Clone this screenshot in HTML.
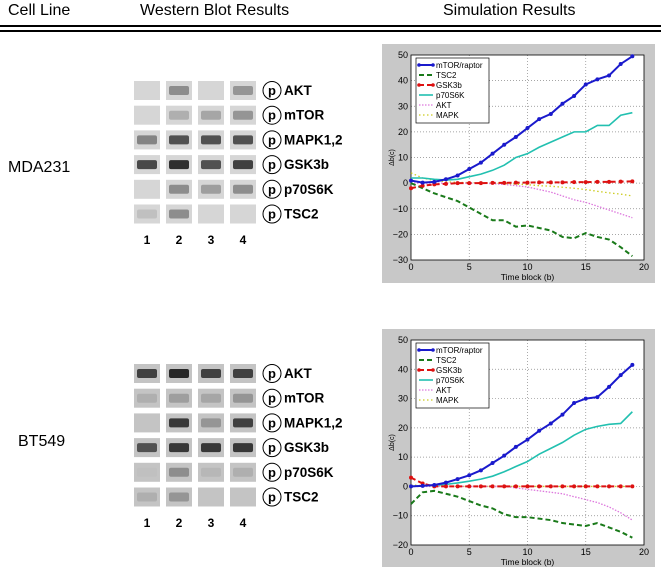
<!DOCTYPE html>
<html><head><meta charset="utf-8"><style>
body{margin:0;background:#fff;width:661px;height:567px;overflow:hidden;font-family:"Liberation Sans",Arial,sans-serif}
svg{position:absolute;left:0;top:0}
</style></head><body>
<svg id="fig" width="661" height="567">
<text x="8" y="15" font-size="16">Cell Line</text>
<text x="140" y="15" font-size="16">Western Blot Results</text>
<text x="443" y="15" font-size="16">Simulation Results</text>
<rect x="0" y="25" width="661" height="2" fill="#000"/>
<rect x="0" y="30" width="661" height="2" fill="#000"/>
<text x="8" y="172" font-size="16">MDA231</text>
<text x="18" y="446" font-size="16">BT549</text>
<g id="blots"></g>
<g id="charts"></g>
</svg>
<script>
const timeBlocks=[0,1,2,3,4,5,6,7,8,9,10,11,12,13,14,15,16,17,18,19];
const xTicks=[0,5,10,15,20];
const yTicks1=[-30,-20,-10,0,10,20,30,40,50];
const yTicks2=[-20,-10,0,10,20,30,40,50];
const mda_mTOR=[1,0.2,0.5,1.5,3,5.5,8,11.5,15,18,21.5,25,27,31,34,38.5,40.5,42,46.5,49.5];
const mda_TSC2=[0,-2,-4,-5.5,-7,-9.5,-12,-14.5,-14.5,-17,-16.5,-17.5,-18.5,-21,-21.5,-19.5,-21,-22,-25,-28.5];
const mda_GSK3b=[-2,-1,-0.5,-0.3,0,0,0,0.1,0.1,0.2,0.2,0.3,0.3,0.3,0.4,0.4,0.5,0.5,0.6,0.7];
const mda_p70S6K=[2,2,1.5,1.2,1.5,2.5,3.5,5,7,10,11.5,14,16,18,20,20,22.5,22.5,26.5,27.5];
const mda_AKT=[0,0,0,0,0,0,0,-0.2,-0.5,-1,-1.5,-2.5,-3.5,-5,-6.5,-7.5,-9,-10.5,-12,-13.5];
const mda_MAPK=[4,2,1,0.5,0.3,0.2,0.1,0,-0.2,-0.4,-0.6,-1,-1.2,-1.6,-2,-2.5,-3.2,-3.8,-4.3,-5];
const bt_mTOR=[0,0.2,0.5,1.3,2.5,3.8,5.5,8,10.5,13.5,16,19,21.5,24.5,28.5,30,30.5,34,38,41.5];
const bt_TSC2=[-6,-2,-1.5,-2.5,-3.5,-5,-6.5,-7.5,-9.5,-10.5,-10.5,-11,-11.5,-12.5,-13,-13.5,-12.5,-14,-15.5,-17.5];
const bt_GSK3b=[3,1,0,0,0,0,0,0,0,0,0,0,0,0,0,0,0,0,0,0];
const bt_p70S6K=[0,0.2,0.4,0.7,1.2,1.8,2.5,3.5,5,6.8,8.5,11,13,15,17.5,19.5,20.5,21.2,21.5,25.5];
const bt_AKT=[0,0,0,0,0,0,0,0,0,-0.5,-1,-1.5,-2,-2.5,-3.5,-4.5,-5.5,-7,-9,-11.5];
const bt_MAPK=[0.5,0.3,0.2,0.1,0,0,0,0,0,0,0,0,0,0,0,0,0,0,0,0];
const proteins=["AKT","mTOR","MAPK1,2","GSK3b","p70S6K","TSC2"];
const lanes=["1","2","3","4"];
const NS="http://www.w3.org/2000/svg";
function mk(t,a,p){const e=document.createElementNS(NS,t);for(const k in a)e.setAttribute(k,a[k]);p.appendChild(e);return e;}

const blotG=document.getElementById('blots');
const bandsMDA=[[0,0.35,0,0.3],[0,0.15,0.2,0.3],[0.4,0.7,0.7,0.7],[0.75,0.9,0.7,0.8],[0,0.35,0.25,0.35],[0.05,0.35,0,0]];
const bandsBT=[[0.8,0.95,0.8,0.8],[0.15,0.25,0.2,0.3],[0,0.85,0.3,0.8],[0.7,0.85,0.85,0.85],[0.05,0.35,0.1,0.15],[0.15,0.3,0,0]];
function blotPanel(y0,bands,bg,prefix){
  const colX=[134,166,198,230];
  proteins.forEach((p,r)=>{
    const y=y0+r*24.7;
    lanes.forEach((l,c)=>{
      const rc=mk('rect',{x:colX[c],y:y,width:26,height:19,fill:bg},blotG);
      
      
      const v=bands[r][c];
      if(v>0){const g=Math.round(200-v*170);
        const b=mk('rect',{x:colX[c]+3,y:y+5,width:20,height:9,rx:2,fill:`rgb(${g},${g},${g})`},blotG);
        
        }
    });
    const cg=mk('g',{},blotG);
    
    
    mk('circle',{cx:272,cy:y+9.5,r:9,fill:'none',stroke:'#000','stroke-width':1},cg);
    const pt=mk('text',{x:272,y:y+14,'font-size':13,'text-anchor':'middle','font-weight':'bold'},cg);pt.textContent='p';
    const t=mk('text',{x:284,y:y+14,'font-size':13.5,'font-weight':'bold'},cg);t.textContent=p;
  });
  lanes.forEach((l,c)=>{const t=mk('text',{x:colX[c]+13,y:y0+163,'font-size':12,'font-weight':'bold','text-anchor':'middle'},blotG);
    t.textContent=l;
    
    });
}
blotPanel(81,bandsMDA,'#d6d6d6','mda231');
blotPanel(364,bandsBT,'#c4c4c4','bt549');

const chG=document.getElementById('charts');
const styles={mTOR:{c:'#1a1acc',w:2,d:'',m:'dot'},TSC2:{c:'#1a7a1a',w:2,d:'5,3',m:''},GSK3b:{c:'#dd1111',w:2,d:'5,3',m:'dot'},p70S6K:{c:'#22c0b0',w:1.6,d:'',m:''},AKT:{c:'#dd77dd',w:1.3,d:'1.5,1.5',m:''},MAPK:{c:'#cccc22',w:1.3,d:'1.5,2.5',m:''}};
const legendNames=["mTOR/raptor","TSC2","GSK3b","p70S6K","AKT","MAPK"];
function chart(prefix,fy,yTicks,series){
  const L=411,R=644,T=fy+11,B=fy+216,ymin=yTicks[0],ymax=yTicks[yTicks.length-1];
  const g=mk('g',{},chG);
  
  
  const fr=mk('rect',{x:382,y:fy,width:273,height:239,fill:'#c8c8c8'},g);
  
  
  mk('rect',{x:L,y:T,width:R-L,height:B-T,fill:'#fff'},g);
  const sx=v=>L+(v-0)/20*(R-L), sy=v=>B-(v-ymin)/(ymax-ymin)*(B-T);
  xTicks.forEach(v=>{
    if(v>0&&v<20) mk('line',{x1:sx(v),x2:sx(v),y1:T,y2:B,stroke:'#888','stroke-dasharray':'1,2','stroke-width':0.7},g);
    const t=mk('text',{x:sx(v),y:B+10,'font-size':9,'text-anchor':'middle'},g);t.textContent=v;
    
  });
  yTicks.forEach(v=>{
    if(v>ymin&&v<ymax) mk('line',{x1:L,x2:R,y1:sy(v),y2:sy(v),stroke:'#888','stroke-dasharray':'1,2','stroke-width':0.7},g);
    const t=mk('text',{x:L-3,y:sy(v)+3,'font-size':9,'text-anchor':'end'},g);t.textContent=v<0?'\u2212'+(-v):v;
    
  });
  mk('rect',{x:L,y:T,width:R-L,height:B-T,fill:'none',stroke:'#000','stroke-width':0.8},g);
  const xl=mk('text',{x:(L+R)/2,y:B+20,'font-size':8.5,'text-anchor':'middle'},g);xl.textContent='Time block (b)';
  
  const yl=mk('text',{x:0,y:0,'font-size':7,'text-anchor':'middle',transform:`translate(394,${(T+B)/2}) rotate(-90)`},g);yl.textContent='\u0394b(c)';
  
  const keys=["mTOR","TSC2","GSK3b","p70S6K","AKT","MAPK"];
  [5,4,3,1,2,0].forEach(i=>{const k=keys[i],s=styles[k],vals=series[i];
    const pl=mk('polyline',{points:vals.map((v,j)=>sx(timeBlocks[j])+','+sy(v)).join(' '),fill:'none',stroke:s.c,'stroke-width':s.w,'stroke-dasharray':s.d},g);
    
    if(s.m) vals.forEach((v,j)=>{const c=mk('circle',{cx:sx(timeBlocks[j]),cy:sy(v),r:2,fill:s.c},g);
      });
  });
  const lg=mk('g',{},g);
  
  mk('rect',{x:416,y:T+3,width:73,height:65,fill:'#fff',stroke:'#000','stroke-width':0.7},lg);
  keys.forEach((k,i)=>{const s=styles[k],y=T+10+i*10;
    mk('line',{x1:419,x2:433,y1:y,y2:y,stroke:s.c,'stroke-width':s.w,'stroke-dasharray':s.d},lg);
    if(s.m){mk('circle',{cx:419,cy:y,r:1.8,fill:s.c},lg);mk('circle',{cx:433,cy:y,r:1.8,fill:s.c},lg);}
    const t=mk('text',{x:436,y:y+3,'font-size':8},lg);t.textContent=legendNames[i];
    
  });
}
chart('mda231',44,yTicks1,[mda_mTOR,mda_TSC2,mda_GSK3b,mda_p70S6K,mda_AKT,mda_MAPK]);
chart('bt549',329,yTicks2,[bt_mTOR,bt_TSC2,bt_GSK3b,bt_p70S6K,bt_AKT,bt_MAPK]);
</script>
</body></html>
